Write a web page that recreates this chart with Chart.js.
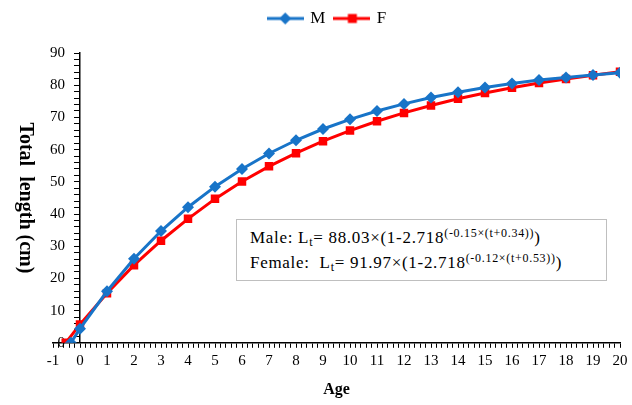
<!DOCTYPE html>
<html>
<head>
<meta charset="utf-8">
<script src="https://cdn.jsdelivr.net/npm/chart.js@4.4.1/dist/chart.umd.min.js"></script>
<style>
  html, body { margin: 0; padding: 0; background: #fff; }
  #wrap { position: relative; width: 632px; height: 405px; }
  #eq {
    position: absolute; left: 236px; top: 219px; width: 369px; height: 60px;
    border: 1px solid #bfbfbf; background: #fff; box-sizing: content-box;
    font-family: "Liberation Serif", "Times New Roman", serif; font-size: 17px;
    letter-spacing: 0.7px;
    color: #000; line-height: 23px; padding: 0;
  }
  #eq .ln { position: absolute; left: 13px; white-space: nowrap; }
  #eq sup { font-size: 12px; letter-spacing: 0.7px; line-height: 0; vertical-align: 6px; }
  #eq sub { font-size: 12px; line-height: 0; vertical-align: -3px; }
</style>
</head>
<body>
<div id="wrap">
  <canvas id="c" width="632" height="405"></canvas>
  <div id="eq">
    <div class="ln" style="top:6px">Male: L<sub>t</sub>= 88.03×(1-2.718<sup>(-0.15×(t+0.34))</sup>)</div>
    <div class="ln" style="top:31px">Female:&nbsp; L<sub>t</sub>= 91.97×(1-2.718<sup>(-0.12×(t+0.53))</sup>)</div>
  </div>
</div>
<script>
// ---- data ----
const seriesNames = ["M", "F"];
const maleAges = [-0.34, 0, 1, 2, 3, 4, 5, 6, 7, 8, 9, 10, 11, 12, 13, 14, 15, 16, 17, 18, 19, 20];
const maleLengths = [0, 4.4, 16.0, 26.1, 34.7, 42.1, 48.5, 54.0, 58.8, 62.9, 66.4, 69.4, 72.0, 74.2, 76.2, 77.8, 79.3, 80.5, 81.6, 82.4, 83.2, 83.9];
const femaleAges = [-0.53, 0, 1, 2, 3, 4, 5, 6, 7, 8, 9, 10, 11, 12, 13, 14, 15, 16, 17, 18, 19, 20];
const femaleLengths = [0, 5.7, 15.4, 24.1, 31.7, 38.5, 44.7, 50.1, 54.8, 58.9, 62.6, 65.9, 68.8, 71.4, 73.7, 75.8, 77.6, 79.2, 80.7, 81.9, 83.1, 84.2];
const xMin = -1, xMax = 20, yMin = 0, yMax = 90;

const BLUE = "#1874c8";
const RED = "#ff0000";
const SERIF = "'Liberation Serif', 'Times New Roman', serif";

function pairs(xs, ys) { return xs.map((x, i) => ({ x: x, y: ys[i] })); }

function legendIcon(color, style) {
  const cv = document.createElement("canvas");
  cv.width = 37; cv.height = 14;
  const g = cv.getContext("2d");
  g.strokeStyle = color; g.lineWidth = 3;
  g.beginPath(); g.moveTo(0, 7); g.lineTo(37, 7); g.stroke();
  g.fillStyle = color;
  if (style === "rectRot") {
    g.beginPath(); g.moveTo(18.5, 1); g.lineTo(24.5, 7); g.lineTo(18.5, 13); g.lineTo(12.5, 7); g.closePath(); g.fill();
  } else {
    g.fillRect(14.5, 2.5, 9, 9);
  }
  return cv;
}

const isWhole = v => Math.abs(v - Math.round(v)) < 1e-6;

// extra space below the legend, and nudge legend left to match reference centring
const legendTweak = {
  id: "legendTweak",
  beforeInit(chart) {
    const origFit = chart.legend.fit;
    chart.legend.fit = function () { origFit.call(this); this.height += 16; };
  },
  afterLayout(chart) {
    chart.legend.left -= 9;
    chart.legend.right -= 9;
  }
};

new Chart(document.getElementById("c"), {
  type: "scatter",
  plugins: [legendTweak],
  data: {
    datasets: [
      { label: seriesNames[0], data: pairs(maleAges, maleLengths), showLine: true,
        borderColor: BLUE, backgroundColor: BLUE, borderWidth: 3,
        pointStyle: "rectRot", pointRadius: 6, pointHoverRadius: 6, pointBorderWidth: 0, tension: 0 },
      { label: seriesNames[1], data: pairs(femaleAges, femaleLengths), showLine: true,
        borderColor: RED, backgroundColor: RED, borderWidth: 3,
        pointStyle: "rect", pointRadius: 6, pointHoverRadius: 6, pointBorderWidth: 0, tension: 0 }
    ]
  },
  options: {
    responsive: false,
    animation: false,
    events: [],
    layout: { padding: { left: 53, right: 12, top: 0, bottom: 6 } },
    plugins: {
      tooltip: { enabled: false },
      legend: {
        position: "top",
        labels: {
          usePointStyle: true,
          pointStyleWidth: 33,
          boxHeight: 14,
          padding: 10,
          color: "#000",
          font: { family: SERIF, size: 17 },
          generateLabels(chart) {
            return chart.data.datasets.map((ds, i) => ({
              text: ds.label,
              fillStyle: ds.backgroundColor,
              strokeStyle: ds.borderColor,
              lineWidth: 0,
              hidden: false,
              datasetIndex: i,
              fontColor: "#000",
              pointStyle: legendIcon(ds.borderColor, ds.pointStyle)
            }));
          }
        }
      }
    },
    scales: {
      x: {
        type: "linear", position: "bottom", min: xMin, max: xMax,
        grid: { drawOnChartArea: false, drawTicks: true, tickLength: 5, color: "#000", lineWidth: 1 },
        border: { display: true, color: "#000", width: 1.5 },
        ticks: {
          stepSize: 0.2, autoSkip: false, maxRotation: 0, padding: 4,
          color: "#000", font: { family: SERIF, size: 15 },
          callback: v => isWhole(v) ? String(Math.round(v)) : ""
        },
        title: { display: true, text: "Age", color: "#000", font: { family: SERIF, size: 16, weight: "bold" }, padding: { top: 6, bottom: 0 } }
      },
      y: {
        type: "linear", position: { x: 0 }, min: yMin, max: yMax,
        grid: { drawOnChartArea: false, drawTicks: true, tickLength: 5, color: "#000", lineWidth: 1 },
        border: { display: true, color: "#000", width: 1.5 },
        ticks: {
          stepSize: 2, autoSkip: false, padding: 4,
          color: "#000", font: { family: SERIF, size: 15 },
          // trailing en spaces keep the label clear of the axis line (axis sits at x = 0)
          callback: v => (Math.round(v) % 10 === 0 && isWhole(v)) ? String(Math.round(v)) + "\u2002\u2002" : ""
        },
        title: { display: true, text: "Total  length (cm)", color: "#000", font: { family: SERIF, size: 20, weight: "bold" }, padding: { top: 0, bottom: 23 } }
      }
    }
  }
});
</script>
</body>
</html>
